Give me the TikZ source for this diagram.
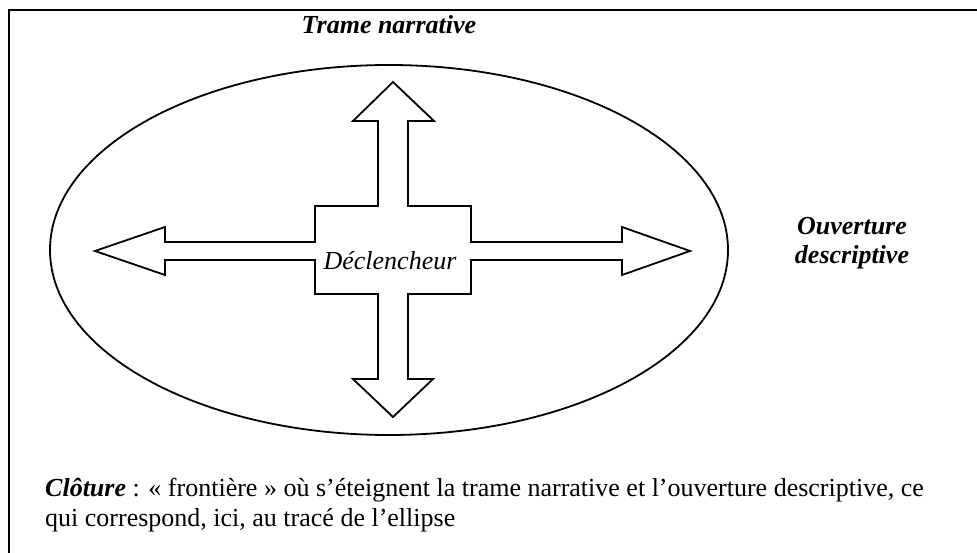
\documentclass[tikz,border=0pt]{standalone}
\usepackage{fontspec}
\setmainfont{Liberation Serif}
\begin{document}
\begin{tikzpicture}[x=1pt,y=-1pt,
  outline/.style={draw=black,line width=1.8pt,line join=miter},
  frameline/.style={draw=black,line width=1.5pt},
  lbl/.style={inner sep=0pt,font=\fontsize{26}{29}\selectfont}]
\useasboundingbox (0,0) rectangle (977,553);
% frame (cut off at right and bottom)
\coordinate (fTL) at (9,10);
\coordinate (fTR) at (977,10);
\coordinate (fBL) at (9,553);
\draw[frameline] (fTR) -- (fTL) -- (fBL);
% ellipse (closure)
\coordinate (ec) at (389,250);
\draw[outline] (ec) ellipse [x radius=339, y radius=185];
% cross of arrows around the trigger box
\draw[outline]
  (393,82) -- (434,121) -- (408,121) -- (408,206) -- (471,206) -- (471,242)
  -- (622,242) -- (622,227) -- (690,251) -- (622,275) -- (622,260) -- (471,260)
  -- (471,294) -- (408,294) -- (408,379) -- (433,379) -- (393,417) -- (353,379)
  -- (378,379) -- (378,294) -- (315,294) -- (315,260) -- (165,260) -- (165,275)
  -- (95,251) -- (165,227) -- (165,242) -- (315,242) -- (315,206) -- (378,206)
  -- (378,121) -- (353,121) -- cycle;
\node[lbl,anchor=base] (decl) at (390,270) {\itshape Déclencheur};
\node[lbl,anchor=base] (trame) at (389,34) {\bfseries\itshape Trame narrative};
\node[lbl,anchor=base] (ouv1) at (852,235) {\bfseries\itshape Ouverture};
\node[lbl,anchor=base] (ouv2) at (852,264) {\bfseries\itshape descriptive};
\node[lbl,anchor=base west] (clot1) at (45,496) {\textbf{\textit{Clôture}} : « frontière » où s’éteignent la trame narrative et l’ouverture descriptive, ce};
\node[lbl,anchor=base west] (clot2) at (45,526) {qui correspond, ici, au tracé de l’ellipse};
\end{tikzpicture}
\end{document}
